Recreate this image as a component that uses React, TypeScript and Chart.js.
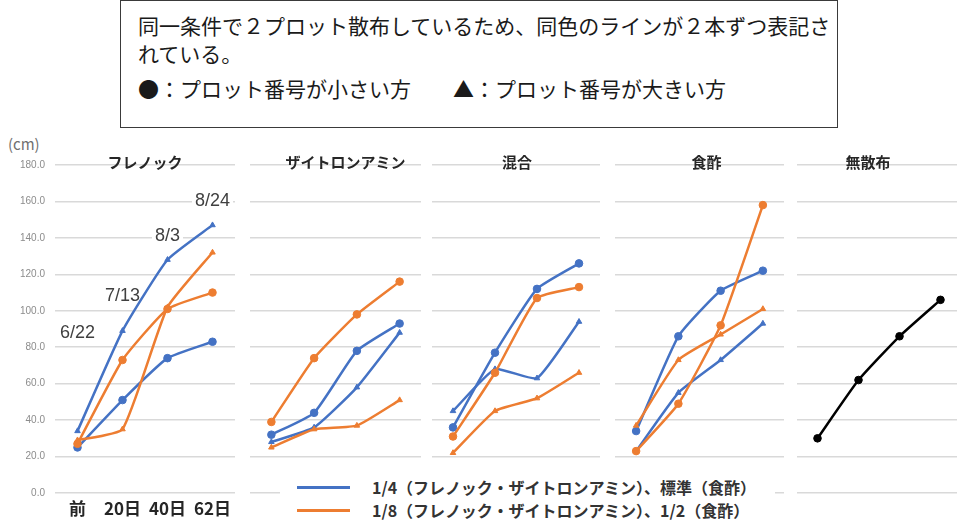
import React, { useEffect, useRef } from 'react';
import { Chart, registerables } from 'chart.js';

Chart.register(...registerables);

// ---------- data ----------
const categories = ['前', '20日', '40日', '62日'];
const panelTitles = ['フレノック', 'ザイトロンアミン', '混合', '食酢', '無散布'];
const yMin = 0;
const yMax = 180;
const yStep = 20;

// フレノック
const frenockBlueCircle = [25, 51, 74, 83];
const frenockBlueTriangle = [34, 89, 128, 147];
const frenockOrangeCircle = [27, 73, 101, 110];
const frenockOrangeTriangle = [29, 35, 102, 132];

// ザイトロンアミン
const zaitronBlueCircle = [32, 44, 78, 93];
const zaitronBlueTriangle = [28, 36, 58, 88];
const zaitronOrangeCircle = [39, 74, 98, 116];
const zaitronOrangeTriangle = [25, 35, 37, 51];

// 混合
const mixBlueCircle = [36, 77, 112, 126];
const mixBlueTriangle = [45, 68, 63, 94];
const mixOrangeCircle = [31, 66, 107, 113];
const mixOrangeTriangle = [22, 45, 52, 66];

// 食酢
const vinegarBlueCircle = [34, 86, 111, 122];
const vinegarBlueTriangle = [23, 55, 73, 93];
const vinegarOrangeCircle = [23, 49, 92, 158];
const vinegarOrangeTriangle = [37, 73, 87, 101];

// 無散布
const untreated = [30, 62, 86, 106];

const dateLabels = ['6/22', '7/13', '8/3', '8/24'];
const dateLabelValues = [88, 108, 141, 160];

const legendLabels = [
  '1/4（フレノック・ザイトロンアミン）、標準（食酢）',
  '1/8（フレノック・ザイトロンアミン）、1/2（食酢）',
];

const noteLines = [
  '同一条件で２プロット散布しているため、同色のラインが２本ずつ表記さ',
  'れている。',
];
const noteMarks = ['●：プロット番号が小さい方', '▲：プロット番号が大きい方'];

// ---------- styles ----------
const BLUE = '#4472C4';
const ORANGE = '#ED7D31';
const BLACK = '#000000';
const JP = '"Noto Sans CJK JP", "Noto Sans", sans-serif';

type SeriesDef = { values: number[]; color: string; shape: 'circle' | 'triangle' };

const s = (values: number[], color: string, shape: 'circle' | 'triangle'): SeriesDef => ({ values, color, shape });

const panels = [
  {
    title: panelTitles[0], left: 0, width: 240, axis: true, titleDx: 0, dates: true,
    series: [
      s(frenockOrangeCircle, ORANGE, 'circle'), s(frenockOrangeTriangle, ORANGE, 'triangle'),
      s(frenockBlueCircle, BLUE, 'circle'), s(frenockBlueTriangle, BLUE, 'triangle'),
    ],
  },
  {
    title: panelTitles[1], left: 245, width: 181, axis: false, titleDx: 10, dates: false,
    series: [
      s(zaitronOrangeCircle, ORANGE, 'circle'), s(zaitronOrangeTriangle, ORANGE, 'triangle'),
      s(zaitronBlueCircle, BLUE, 'circle'), s(zaitronBlueTriangle, BLUE, 'triangle'),
    ],
  },
  {
    title: panelTitles[2], left: 427, width: 178, axis: false, titleDx: 1, dates: false,
    series: [
      s(mixOrangeCircle, ORANGE, 'circle'), s(mixOrangeTriangle, ORANGE, 'triangle'),
      s(mixBlueCircle, BLUE, 'circle'), s(mixBlueTriangle, BLUE, 'triangle'),
    ],
  },
  {
    title: panelTitles[3], left: 610, width: 179, axis: false, titleDx: 7, dates: false,
    series: [
      s(vinegarOrangeCircle, ORANGE, 'circle'), s(vinegarOrangeTriangle, ORANGE, 'triangle'),
      s(vinegarBlueCircle, BLUE, 'circle'), s(vinegarBlueTriangle, BLUE, 'triangle'),
    ],
  },
  {
    title: panelTitles[4], left: 792, width: 174, axis: false, titleDx: -11, dates: false,
    series: [s(untreated, BLACK, 'circle')],
  },
];

const CANVAS_TOP = 140;
const CANVAS_HEIGHT = 383;

function Panel({ cfg }: { cfg: (typeof panels)[number] }) {
  const ref = useRef<HTMLCanvasElement>(null);
  useEffect(() => {
    const canvas = ref.current!;
    const decor = {
      id: 'panelDecor',
      beforeDatasetsDraw(chart: any) {
        const { ctx, chartArea, scales } = chart;
        ctx.save();
        ctx.font = `bold 15px ${JP}`;
        ctx.fillStyle = '#262626';
        ctx.textAlign = 'center';
        ctx.textBaseline = 'middle';
        ctx.fillText(cfg.title, (chartArea.left + chartArea.right) / 2 + cfg.titleDx, chartArea.top - 3);
        if (cfg.dates) {
          ctx.font = '18px "Liberation Sans", Arial, sans-serif';
          dateLabels.forEach((t, i) => {
            const x = scales.x.getPixelForValue(i);
            const y = scales.y.getPixelForValue(dateLabelValues[i]);
            const w = ctx.measureText(t).width;
            ctx.fillStyle = '#ffffff';
            ctx.fillRect(x - w / 2 - 3, y - 10, w + 6, 20);
            ctx.fillStyle = '#404040';
            ctx.fillText(t, x, y);
          });
        }
        ctx.restore();
      },
    };
    const chart = new Chart(canvas, {
      type: 'line',
      data: {
        labels: categories,
        datasets: cfg.series.map((d) => ({
          data: d.values,
          borderColor: d.color,
          backgroundColor: d.color,
          borderWidth: 2.5,
          pointStyle: d.shape,
          pointRadius: d.shape === 'circle' ? 3.8 : 3.2,
          pointBorderWidth: 1,
          tension: 0.15,
          fill: false,
        })),
      },
      options: {
        responsive: false,
        animation: false,
        devicePixelRatio: 1,
        layout: { padding: { top: 25, bottom: 3, left: 0, right: 0 } },
        plugins: { legend: { display: false }, tooltip: { enabled: false } },
        scales: {
          x: {
            type: 'category',
            offset: true,
            grid: { display: false, drawTicks: false },
            border: { display: false },
            ticks: {
              display: cfg.axis,
              font: { size: 17, weight: 'bold', family: JP },
              color: '#262626',
              padding: 5,
              maxRotation: 0,
              autoSkip: false,
            },
            afterFit: (sc: any) => { sc.height = 27; },
          },
          y: {
            min: yMin,
            max: yMax,
            grid: { color: '#d9d9d9', lineWidth: 1.5, drawTicks: false },
            border: { display: false },
            ticks: {
              display: cfg.axis,
              stepSize: yStep,
              callback: (v: any) => Number(v).toFixed(1),
              font: { size: 10, family: '"Liberation Sans", Arial, sans-serif' },
              color: '#8c8c8c',
              padding: 10,
            },
            afterFit: (sc: any) => { sc.width = cfg.axis ? 55 : 0; },
          },
        },
      },
      plugins: [decor],
    } as any);
    return () => chart.destroy();
  }, [cfg]);
  return (
    <canvas
      ref={ref}
      width={cfg.width}
      height={CANVAS_HEIGHT}
      style={{ position: 'absolute', left: cfg.left, top: CANVAS_TOP, width: cfg.width, height: CANVAS_HEIGHT }}
    />
  );
}

const noteStyle: React.CSSProperties = {
  position: 'absolute', fontSize: 21, lineHeight: '28px', color: '#1a1a1a', whiteSpace: 'nowrap',
};

export default function App() {
  return (
    <div
      style={{
        position: 'fixed', left: 0, top: 0, width: 957, height: 523, overflow: 'hidden',
        background: '#ffffff', fontFamily: JP,
      }}
    >
      {/* note box */}
      <div
        style={{
          position: 'absolute', left: 120, top: 0, width: 718, height: 128,
          border: '1.5px solid #3a3a3a', boxSizing: 'border-box',
        }}
      />
      <div style={{ ...noteStyle, left: 138, top: 11 }}>{noteLines[0]}</div>
      <div style={{ ...noteStyle, left: 138, top: 39 }}>{noteLines[1]}</div>
      <div style={{ ...noteStyle, left: 138, top: 74 }}>{noteMarks[0]}</div>
      <div style={{ ...noteStyle, left: 453, top: 74 }}>{noteMarks[1]}</div>

      {/* unit */}
      <div style={{ position: 'absolute', left: 8, top: 133, fontSize: 15, lineHeight: '22px', color: '#707070' }}>(cm)</div>

      {panels.map((p, i) => (
        <Panel key={i} cfg={p} />
      ))}

      {/* legend */}
      <div style={{ position: 'absolute', left: 280, top: 466, width: 495, height: 57, background: '#ffffff' }}>
        {[BLUE, ORANGE].map((c, i) => (
          <React.Fragment key={i}>
            <div style={{ position: 'absolute', left: 17, top: 20 + i * 23, width: 53, height: 3, background: c }} />
            <div
              style={{
                position: 'absolute', left: 92, top: 10 + i * 23, fontSize: 16, lineHeight: '22px',
                fontWeight: 'bold', color: '#333333', whiteSpace: 'nowrap',
              }}
            >
              {legendLabels[i]}
            </div>
          </React.Fragment>
        ))}
      </div>
    </div>
  );
}
